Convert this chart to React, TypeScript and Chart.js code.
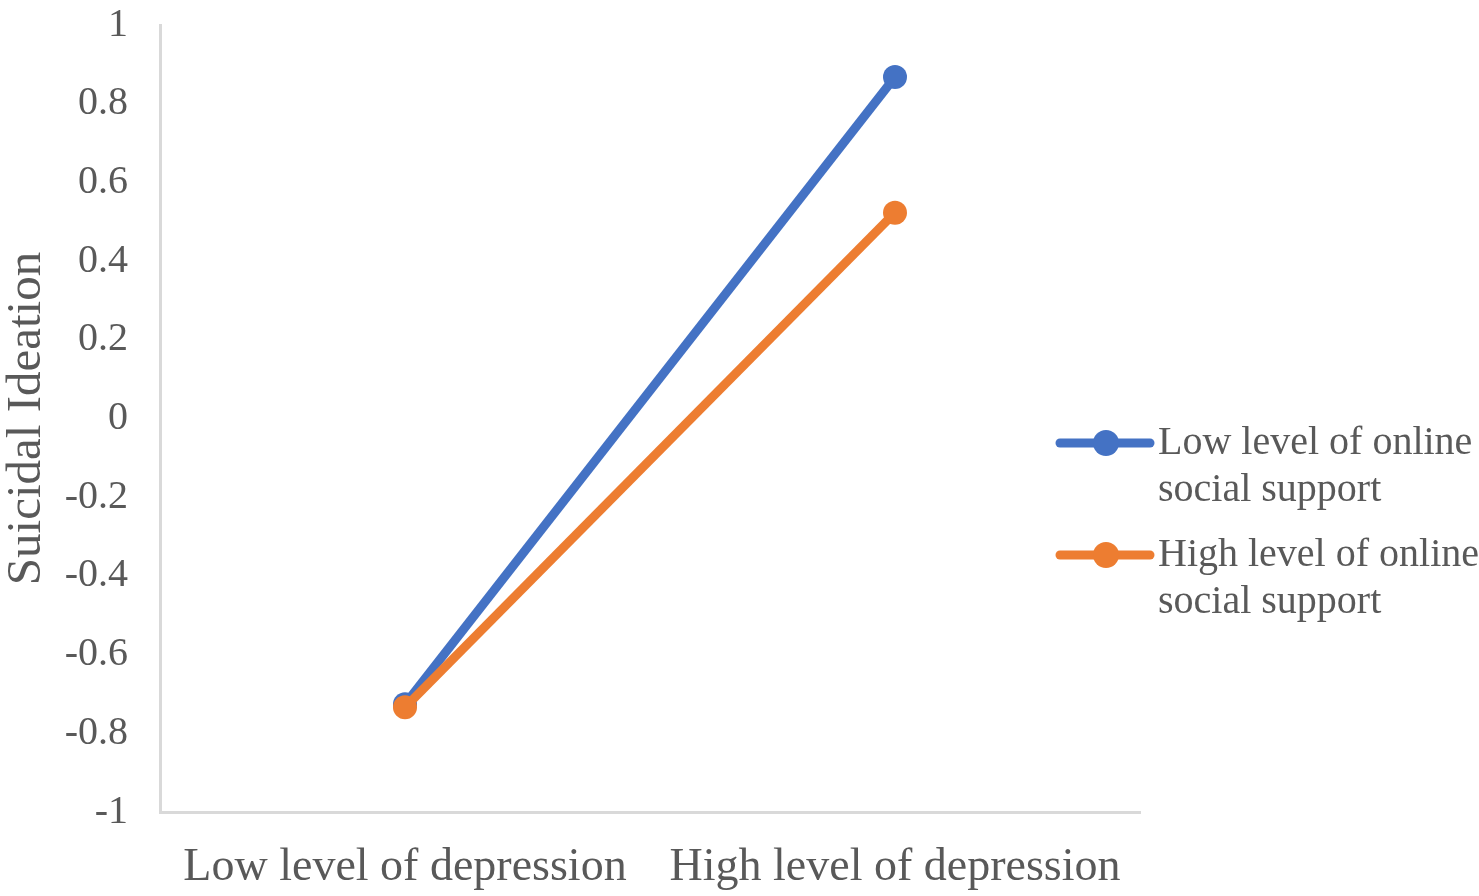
import React, { useEffect, useRef } from 'react';
import { Chart, registerables } from 'chart.js';

Chart.register(...registerables);

const categories = ['Low level of depression', 'High level of depression'];
const lowSupport = [-0.726, 0.868];
const highSupport = [-0.734, 0.523];
const seriesNames = [
    ['Low level of online', 'social support'],
    ['High level of online', 'social support'],
];
const yTicks = [-1, -0.8, -0.6, -0.4, -0.2, 0, 0.2, 0.4, 0.6, 0.8, 1];

const BLUE = '#4472C4';
const ORANGE = '#ED7D31';
const TEXT = '#595959';
const FONT = '"Liberation Serif", "Times New Roman", serif';

// canvas is taller than the page and shifted up so the plot top lands near the page top
const SHIFT = 31;
const W = 1479;
const H = 896 + SHIFT;

const legendPlugin = {
    id: 'sideLegend',
    afterDraw(chart: any) {
        const ctx = chart.ctx;
        const area = chart.chartArea;
        const colors = [BLUE, ORANGE];
        const x0 = area.right - 80;
        const rows = [443 + SHIFT, 555 + SHIFT];
        ctx.save();
        colors.forEach((c, i) => {
            const y = rows[i];
            ctx.strokeStyle = c;
            ctx.lineWidth = 9;
            ctx.lineCap = 'round';
            ctx.beginPath();
            ctx.moveTo(x0, y);
            ctx.lineTo(x0 + 90, y);
            ctx.stroke();
            ctx.fillStyle = c;
            ctx.beginPath();
            ctx.arc(x0 + 46, y, 13, 0, Math.PI * 2);
            ctx.fill();
            ctx.fillStyle = TEXT;
            ctx.font = `40px ${FONT}`;
            ctx.textBaseline = 'middle';
            ctx.textAlign = 'left';
            seriesNames[i].forEach((t, j) => {
                ctx.fillText(t, x0 + 98, y + j * 47);
            });
        });
        ctx.restore();
    },
};

const LineChart: React.FC = () => {
    const canvasRef = useRef<HTMLCanvasElement>(null);

    useEffect(() => {
        if (!canvasRef.current) return;
        const ctx = canvasRef.current.getContext('2d');
        if (!ctx) return;
        const chart = new Chart(ctx, {
            type: 'line',
            data: {
                labels: categories,
                datasets: [
                    {
                        label: seriesNames[0].join(' '),
                        data: lowSupport,
                        borderColor: BLUE,
                        backgroundColor: BLUE,
                        borderWidth: 9,
                        pointRadius: 12,
                        pointHoverRadius: 12,
                        pointBorderWidth: 0,
                        order: 1,
                    },
                    {
                        label: seriesNames[1].join(' '),
                        data: highSupport,
                        borderColor: ORANGE,
                        backgroundColor: ORANGE,
                        borderWidth: 9,
                        pointRadius: 12,
                        pointHoverRadius: 12,
                        pointBorderWidth: 0,
                        order: 0,
                    },
                ],
            },
            options: {
                responsive: false,
                animation: false,
                layout: { padding: { top: 0, right: 339, left: 0, bottom: 0 } },
                plugins: {
                    legend: { display: false },
                    tooltip: { enabled: false },
                },
                scales: {
                    x: {
                        offset: true,
                        grid: { display: false, drawTicks: false },
                        border: { display: true, color: '#D9D9D9', width: 3 },
                        ticks: {
                            color: TEXT,
                            font: { family: FONT, size: 46 },
                            padding: 28,
                            maxRotation: 0,
                        },
                        afterFit(scale: any) {
                            scale.height = 84;
                        },
                    },
                    y: {
                        min: -1,
                        max: 1,
                        afterBuildTicks(scale: any) {
                            scale.ticks = yTicks.map((v) => ({ value: v }));
                        },
                        grid: { display: false, drawTicks: false },
                        border: { display: true, color: '#D9D9D9', width: 3 },
                        ticks: {
                            color: TEXT,
                            font: { family: FONT, size: 40 },
                            padding: 32,
                            callback: (v: any) => String(Number(Number(v).toFixed(1))),
                        },
                        title: {
                            display: true,
                            text: 'Suicidal Ideation',
                            color: TEXT,
                            font: { family: FONT, size: 49 },
                            padding: { top: -2, bottom: 0 },
                        },
                        afterFit(scale: any) {
                            scale.width = 160;
                        },
                    },
                },
            },
            plugins: [legendPlugin],
        });
        return () => {
            chart.destroy();
        };
    }, []);

    return (
        <canvas
            ref={canvasRef}
            width={W}
            height={H}
            style={{ display: 'block', position: 'absolute', left: 0, top: -SHIFT }}
        />
    );
};

export default function App() {
    return (
        <div style={{ position: 'fixed', left: 0, top: 0, width: 1479, height: 896, overflow: 'hidden', background: '#fff' }}>
            <LineChart />
        </div>
    );
}
